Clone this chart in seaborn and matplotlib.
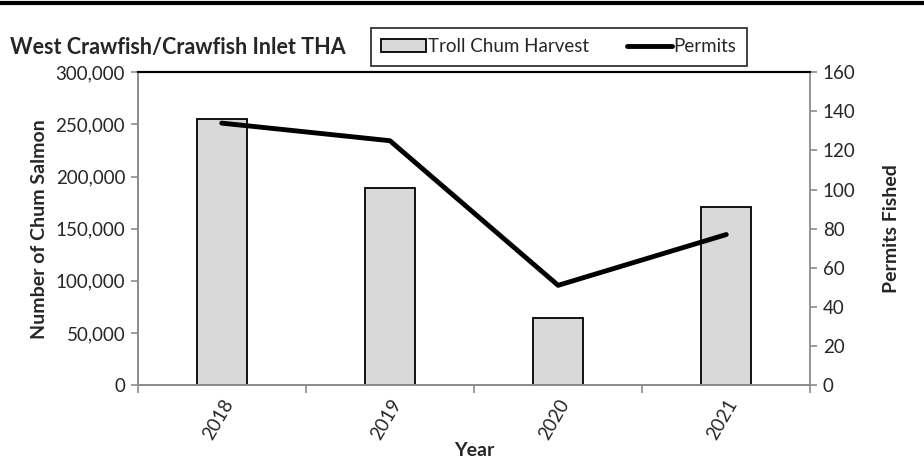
import numpy as np
import pandas as pd
import matplotlib.pyplot as plt
from matplotlib.lines import Line2D
from matplotlib.patches import Patch
from matplotlib.ticker import FuncFormatter, FixedLocator
import seaborn as sns

years = ["2018", "2019", "2020", "2021"]
harvest = [255000, 189000, 64000, 171000]
permits = [134, 125, 51, 77]

sns.set_style("white")
plt.rcParams["font.family"] = ["Lato", "DejaVu Sans"]
plt.rcParams["font.size"] = 13.5

df = pd.DataFrame({"Year": years, "Harvest": harvest, "Permits": permits})

fig = plt.figure(figsize=(9.24, 4.65), dpi=100)
ax = fig.add_axes([0.149, 0.172, 0.728, 0.6725])

sns.barplot(data=df, x="Year", y="Harvest", ax=ax, color="#d9d9d9",
            edgecolor="black", linewidth=1.3, width=0.3, saturation=1)
ax.set_xlim(-0.5, 3.5)
ax.set_ylim(0, 300000)
ax.yaxis.set_major_locator(FixedLocator(np.arange(0, 300001, 50000)))
ax.yaxis.set_major_formatter(FuncFormatter(lambda v, p: f"{int(v):,}"))

ax2 = ax.twinx()
sns.lineplot(x=np.arange(len(years)), y=permits, ax=ax2, color="black",
             linewidth=3.5)
ax2.set_ylim(0, 160)
ax2.yaxis.set_major_locator(FixedLocator(np.arange(0, 161, 20)))

grey = "#8c8c8c"
for a in (ax, ax2):
    for s in ("left", "right", "bottom"):
        a.spines[s].set_color(grey)
        a.spines[s].set_linewidth(1.3)
    a.spines["top"].set_color("black")
    a.spines["top"].set_linewidth(1.5)
ax.spines["right"].set_visible(False)

ax.tick_params(axis="y", which="major", direction="out", length=5, color=grey,
               width=1.2, left=True, labelsize=13.5, pad=4)
ax2.tick_params(axis="y", which="major", direction="out", length=5, color=grey,
                width=1.2, right=True, labelsize=13.5, pad=4)

# labels at bar centres, ticks on category boundaries
ax.set_xticks(range(len(years)))
ax.set_xticklabels(years, rotation=60, ha="right", rotation_mode="anchor")
ax.xaxis.set_minor_locator(FixedLocator(np.arange(-0.5, 3.6, 1)))
ax.tick_params(axis="x", which="major", length=0, pad=8, labelsize=13.5)
ax.tick_params(axis="x", which="minor", direction="out", length=6,
               color=grey, width=1.2, bottom=True)

ax.set_xlabel("Year", fontweight="bold", fontsize=14, labelpad=0)
ax.set_ylabel("Number of Chum Salmon", fontweight="bold", fontsize=14,
              labelpad=5)
ax2.set_ylabel("Permits Fished", fontweight="bold", fontsize=14, labelpad=20)

fig.text(0.011, 0.897, "West Crawfish/Crawfish Inlet THA", fontsize=15.5,
         fontweight="bold", va="center", ha="left")

handles = [Patch(facecolor="#d9d9d9", edgecolor="black", linewidth=1.3),
           Line2D([0], [0], color="black", linewidth=3.5)]
leg = fig.legend(handles, ["Troll Chum Harvest", "Permits"],
                 loc="center", bbox_to_anchor=(0.605, 0.899), ncol=2,
                 frameon=True, fancybox=False, fontsize=13.5,
                 handlelength=2.4, handletextpad=0.1, columnspacing=2.0,
                 borderpad=0.55, borderaxespad=0)
leg.get_frame().set_edgecolor("black")
leg.get_frame().set_linewidth(1.3)

fig.add_artist(Line2D([0, 1], [0.993, 0.993], color="black", linewidth=3,
                      transform=fig.transFigure))

fig.savefig("out.png", dpi=100)
